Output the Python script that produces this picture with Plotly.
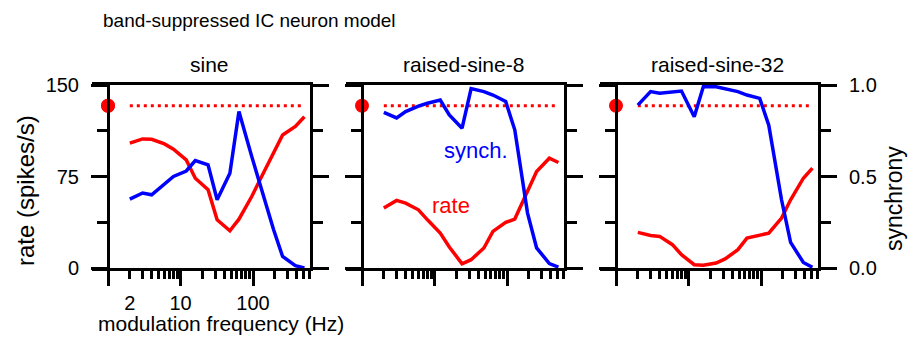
import plotly.graph_objects as go
import math

# ---------------- data ----------------
freqs = [2, 3, 4, 6, 8, 12, 16, 24, 32, 48, 64, 96, 128, 192, 256, 384, 512]

sine_rate = [102.3, 105.8, 105.5, 101.7, 97.4, 88.6, 73.6, 64.1, 39.5, 30.5, 40.0, 58.6, 73.6, 94.0, 109.0, 116.0, 124.0]
sine_sync = [0.376, 0.41, 0.40, 0.455, 0.50, 0.53, 0.587, 0.564, 0.373, 0.518, 0.855, 0.61, 0.44, 0.21, 0.063, 0.013, 0.0]

rs8_rate = [49.1, 55.4, 53.2, 47.7, 39.5, 28.6, 17.2, 3.5, 6.8, 16.4, 30.0, 37.4, 40.1, 62.7, 79.1, 90.0, 86.5]
rs8_sync = [0.85, 0.82, 0.855, 0.885, 0.90, 0.918, 0.836, 0.764, 0.98, 0.964, 0.945, 0.91, 0.755, 0.30, 0.11, 0.024, 0.005]

rs32_rate = [29.2, 26.7, 25.9, 19.1, 10.9, 2.7, 2.2, 4.1, 7.4, 15.0, 24.5, 27.3, 28.6, 40.9, 55.9, 73.6, 81.8]
rs32_sync = [0.89, 0.964, 0.955, 0.96, 0.967, 0.827, 0.99, 0.99, 0.98, 0.964, 0.945, 0.927, 0.78, 0.373, 0.14, 0.03, 0.004]

unmod_rate = 133.0      # red dot / dotted reference
unmod_freq = 1.0

panel_titles = ["sine", "raised-sine-8", "raised-sine-32"]
rates = [sine_rate, rs8_rate, rs32_rate]
syncs = [sine_sync, rs8_sync, rs32_sync]

x_major = [1, 10, 100]
x_minor = [2, 3, 4, 5, 6, 7, 8, 9, 20, 30, 40, 50, 60, 70, 80, 90, 200, 300, 400, 500, 600]
x_labels = [2, 10, 100]
rate_ticks = [0, 75, 150]
rate_minor = [37.5, 112.5]
sync_ticks = [0, 0.5, 1.0]
sync_text = ["0.0", "0.5", "1.0"]
sync_minor = [0.25, 0.75]

# ---------------- layout helpers ----------------
W, H = 908, 342
FONT = "Liberation Sans, Arial, sans-serif"
RED = "#ff0000"
BLUE = "#0000ff"
LW = 3
DLW = 3.5


def px(x):
    return x / W


def py(y):
    return 1 - y / H


frames = [(92, 310), (346, 564), (600, 818)]
ydom = [py(268), py(85)]
DEC = 72.5  # px per decade

fig = go.Figure()

for i in range(3):
    n = i + 1
    xa = "x" if n == 1 else f"x{n}"
    ya = "y" if n == 1 else f"y{n}"
    ys = f"y{n + 3}"
    fig.add_trace(go.Scatter(x=freqs, y=rates[i], mode="lines",
                             line=dict(color=RED, width=DLW), xaxis=xa, yaxis=ya,
                             showlegend=False))
    fig.add_trace(go.Scatter(x=[freqs[0], freqs[-1]], y=[unmod_rate, unmod_rate], mode="lines",
                             line=dict(color=RED, width=3, dash="3px,4px"), xaxis=xa, yaxis=ya,
                             showlegend=False))
    fig.add_trace(go.Scatter(x=[unmod_freq], y=[unmod_rate], mode="markers",
                             marker=dict(color=RED, size=14), xaxis=xa, yaxis=ya,
                             showlegend=False, cliponaxis=False))
    fig.add_trace(go.Scatter(x=freqs, y=syncs[i], mode="lines",
                             line=dict(color=BLUE, width=DLW), xaxis=xa, yaxis=ys,
                             showlegend=False))

    l, r = frames[i]
    xr = [-16 / DEC, (r - l - 16) / DEC]
    fig.layout[f"xaxis{n}" if n > 1 else "xaxis"] = dict(
        domain=[px(l), px(r)], type="log", range=xr, anchor=ya, automargin=False,
        showline=True, mirror=True, linecolor="black", linewidth=LW,
        ticks="outside", ticklen=15, tickwidth=LW, tickcolor="black",
        tickmode="array", tickvals=x_major, showticklabels=False,
        minor=dict(tickmode="array", tickvals=x_minor, ticks="outside", ticklen=8,
                   tickwidth=2.5, tickcolor="black", showgrid=False),
        showgrid=False, zeroline=False, fixedrange=True,
    )
    fig.layout[f"yaxis{n}" if n > 1 else "yaxis"] = dict(
        domain=ydom, range=[0, 150], anchor="free", position=px(l + 16), automargin=False,
        showline=True, linecolor="black", linewidth=LW,
        ticks="outside", ticklen=16, tickwidth=LW, tickcolor="black",
        tickmode="array", tickvals=rate_ticks, showticklabels=(n == 1),
        tickfont=dict(family=FONT, size=20, color="black"), ticklabelstandoff=8,
        minor=dict(tickmode="array", tickvals=rate_minor, ticks="outside", ticklen=10,
                   tickwidth=LW, tickcolor="black", showgrid=False),
        showgrid=False, zeroline=False, fixedrange=True,
    )
    fig.layout[f"yaxis{n + 3}"] = dict(
        overlaying=ya, anchor=xa, side="right", range=[0, 1], automargin=False,
        showline=True, linecolor="black", linewidth=LW,
        ticks="outside", ticklen=16, tickwidth=LW, tickcolor="black",
        tickmode="array", tickvals=sync_ticks, ticktext=sync_text, showticklabels=(n == 3),
        tickfont=dict(family=FONT, size=20, color="black"), ticklabelstandoff=8,
        minor=dict(tickmode="array", tickvals=sync_minor, ticks="outside", ticklen=10,
                   tickwidth=LW, tickcolor="black", showgrid=False),
        showgrid=False, zeroline=False, fixedrange=True,
    )

# label-only x axis for panel 1 ("2", "10", "100")
fig.add_trace(go.Scatter(x=[unmod_freq], y=[unmod_rate], mode="markers",
                         marker=dict(color=RED, size=14), xaxis="x7", yaxis="y",
                         showlegend=False, cliponaxis=False))
fig.layout["xaxis7"] = dict(
    overlaying="x", anchor="y", side="bottom", type="log", automargin=False,
    range=[-16 / DEC, (frames[0][1] - frames[0][0] - 16) / DEC],
    tickmode="array", tickvals=x_labels, ticks="", showline=False,
    tickfont=dict(family=FONT, size=20, color="black"), ticklabelstandoff=21,
    showgrid=False, zeroline=False, fixedrange=True,
)

annotations = []
for i in range(3):
    l, r = frames[i]
    annotations.append(dict(text=panel_titles[i], xref="paper", yref="paper",
                            x=px((l + 16 + r) / 2), y=py(64), xanchor="center", yanchor="middle",
                            showarrow=False, font=dict(family=FONT, size=21, color="black")))
annotations += [
    dict(text="band-suppressed IC neuron model", xref="paper", yref="paper",
         x=px(101), y=py(20), xanchor="left", yanchor="middle", showarrow=False,
         font=dict(family=FONT, size=19, color="black")),
    dict(text="modulation frequency (Hz)", xref="paper", yref="paper",
         x=px(96), y=py(323), xanchor="left", yanchor="middle", showarrow=False,
         font=dict(family=FONT, size=21, color="black")),
    dict(text="rate (spikes/s)", xref="paper", yref="paper", textangle=-90,
         x=px(25), y=py(191), xanchor="center", yanchor="middle", showarrow=False,
         font=dict(family=FONT, size=24, color="black")),
    dict(text="synchrony", xref="paper", yref="paper", textangle=-90,
         x=px(894), y=py(199), xanchor="center", yanchor="middle", showarrow=False,
         font=dict(family=FONT, size=23, color="black")),
    dict(text="synch.", xref="x2", yref="y2", x=math.log10(37.3), y=96.7,
         xanchor="center", yanchor="middle", showarrow=False,
         font=dict(family=FONT, size=22, color=BLUE)),
    dict(text="rate", xref="x2", yref="y2", x=math.log10(16.9), y=51.6,
         xanchor="center", yanchor="middle", showarrow=False,
         font=dict(family=FONT, size=22, color=RED)),
]

fig.update_layout(
    template="none",
    width=W, height=H, margin=dict(l=0, r=0, t=0, b=0, pad=0),
    paper_bgcolor="white", plot_bgcolor="white",
    annotations=annotations, showlegend=False,
    font=dict(family=FONT, color="black"),
)

fig.write_html("out.html", config=dict(displayModeBar=False))
